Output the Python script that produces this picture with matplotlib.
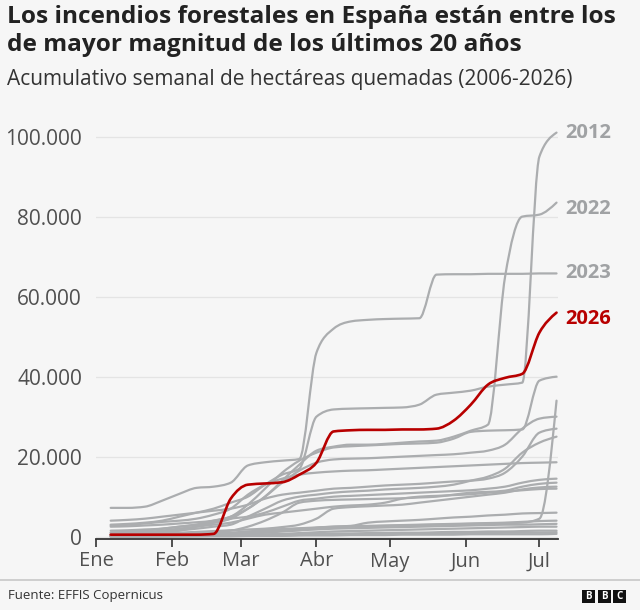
import matplotlib
matplotlib.use("Agg")
import matplotlib.pyplot as plt
from matplotlib.patches import Rectangle, PathPatch
from matplotlib.lines import Line2D
from matplotlib.path import Path

plt.rcParams['font.family'] = ['Open Sans', 'DejaVu Sans']

# Weekly sample days (day of year, 0 = 1 Jan)
week_days = [6 + 7 * i for i in range(27)]

month_days = [0, 31, 59, 90, 120, 151, 181]
month_labels = ["Ene", "Feb", "Mar", "Abr", "May", "Jun", "Jul"]

y_ticks = [0, 20000, 40000, 60000, 80000, 100000]
y_tick_labels = ["0", "20.000", "40.000", "60.000", "80.000", "100.000"]

# Cumulative burned hectares (thousands of ha), weekly
y2026 = [0.5, 0.5, 0.5, 0.5, 0.5, 0.5, 0.7, 9.5, 13.0, 13.3, 13.6, 15.5, 18.5, 26.3, 26.6,
         26.7, 26.7, 26.8, 26.8, 27.0, 29.0, 33.0, 38.0, 39.7, 40.7, 51.0, 56.0]
y2012 = [3, 3.2, 3.5, 4, 5, 6, 7, 8.5, 10, 13, 15.5, 17, 30, 31.8, 32, 32.1, 32.2, 32.3, 33,
         35.5, 36, 36.5, 37.5, 38, 38.5, 95, 101]
y2022 = [1, 1.2, 1.5, 2, 2.5, 3, 4, 5, 7, 10, 14, 18, 21.5, 22.5, 23, 23, 23.2, 23.5, 23.8,
         24, 25, 26.5, 28, 65, 80, 80.5, 83.5]
y2023 = [7.2, 7.2, 7.5, 9, 10.7, 12.2, 12.5, 13.5, 17.8, 18.6, 19, 19.4, 46, 52, 53.8, 54.2,
         54.4, 54.5, 54.6, 65.5, 65.6, 65.6, 65.7, 65.7, 65.7, 65.8, 65.8]
other_years = [
    [2.5, 2.6, 2.8, 3, 3.3, 3.6, 4, 5, 8, 12, 16, 19, 21, 22.3, 22.6, 22.8, 23, 23.2, 23.3,
     23.5, 24.5, 26.2, 26.5, 26.6, 26.8, 39, 40],
    [1.5, 1.6, 1.8, 2, 2.5, 3, 3.5, 4.5, 7, 10, 13.5, 16.5, 18.5, 19.3, 19.5, 19.6, 19.8, 20,
     20.2, 20.4, 20.6, 21, 21.5, 23, 27, 29.5, 30],
    [0.3, 0.3, 0.4, 0.5, 0.6, 0.7, 0.8, 1, 1.3, 1.6, 1.8, 2, 2.2, 2.4, 2.5, 2.6, 2.7, 2.8, 2.9,
     3, 3.1, 3.2, 3.3, 3.4, 3.5, 4.5, 34],
    [4, 4.2, 4.5, 5, 5.5, 6, 6.5, 7, 8, 9.5, 10.5, 11, 11.5, 12, 12.2, 12.5, 12.8, 13, 13.2,
     13.5, 13.8, 14, 14.5, 16, 20, 26, 27],
    [1, 1.1, 1.2, 1.4, 1.6, 2, 2.5, 3, 5, 7, 9, 10, 10.5, 11, 11.3, 11.5, 11.8, 12, 12.2, 12.5,
     13, 14, 15, 17, 21, 23.5, 25],
    [2.8, 3, 3.3, 3.7, 4, 4.5, 5.5, 7, 10.5, 13, 14.5, 15.5, 16, 16.3, 16.5, 16.6, 16.8, 17,
     17.2, 17.4, 17.6, 17.8, 18, 18.2, 18.4, 18.5, 18.6],
    [0.5, 0.6, 0.8, 1, 1.5, 2.5, 3.5, 4.5, 5, 6, 7.5, 9, 9.5, 10, 10.2, 10.4, 10.6, 10.8, 11,
     11.2, 11.4, 11.6, 12, 12.5, 13.5, 14.2, 14.5],
    [0.2, 0.2, 0.3, 0.5, 0.8, 1, 1.2, 1.5, 2.5, 4, 6, 8.5, 9, 9.2, 9.3, 9.4, 9.5, 9.6, 9.8, 10,
     10.5, 11, 11.2, 11.5, 12.5, 13.2, 13.5],
    [0.4, 0.5, 0.6, 0.8, 1, 1.2, 1.4, 1.6, 1.8, 2, 2.4, 3, 4.5, 7, 7.4, 7.6, 7.8, 8, 8.5, 9,
     9.5, 10, 10.5, 11, 11.8, 12.3, 12.5],
    [0.6, 0.7, 1, 1.5, 2, 2.5, 3, 3.5, 4.5, 5.5, 6, 6.5, 7, 7.5, 7.8, 8, 8.5, 9.5, 10, 10.2,
     10.4, 10.6, 11, 11.3, 11.6, 11.9, 12],
    [0.1, 0.1, 0.2, 0.2, 0.3, 0.4, 0.5, 0.6, 0.8, 1, 1.3, 1.6, 2.2, 2.5, 2.7, 3.5, 3.8, 4, 4.2,
     4.5, 4.8, 5, 5.3, 5.5, 5.8, 5.9, 6],
    [0.2, 0.2, 0.3, 0.3, 0.4, 0.5, 0.6, 0.8, 1.2, 1.6, 1.9, 2.1, 2.3, 2.5, 2.6, 2.7, 2.8, 2.9,
     3, 3.1, 3.2, 3.3, 3.4, 3.5, 3.7, 3.9, 4],
    [0.3, 0.3, 0.4, 0.5, 0.6, 0.7, 0.8, 0.9, 1.0, 1.2, 1.4, 1.6, 1.8, 2.0, 2.1, 2.2, 2.3, 2.4,
     2.5, 2.6, 2.7, 2.8, 2.9, 3.0, 3.0, 3.1, 3.2],
    [0.1, 0.1, 0.1, 0.2, 0.2, 0.3, 0.3, 0.4, 0.5, 0.6, 0.7, 0.9, 1.1, 1.3, 1.4, 1.5, 1.6, 1.7,
     1.8, 1.9, 2, 2.1, 2.2, 2.3, 2.4, 2.5, 2.5],
    [0, 0, 0.1, 0.1, 0.1, 0.2, 0.2, 0.3, 0.3, 0.4, 0.5, 0.6, 0.7, 0.8, 0.8, 0.9, 0.9, 1, 1,
     1.1, 1.2, 1.2, 1.3, 1.3, 1.4, 1.5, 1.5],
    [0, 0, 0, 0.1, 0.1, 0.1, 0.2, 0.2, 0.2, 0.3, 0.3, 0.4, 0.5, 0.5, 0.6, 0.6, 0.7, 0.7, 0.8,
     0.8, 0.8, 0.9, 0.9, 1.0, 1.0, 1.0, 1.1],
    [0, 0, 0, 0, 0.1, 0.1, 0.1, 0.1, 0.2, 0.2, 0.2, 0.3, 0.3, 0.3, 0.4, 0.4, 0.4, 0.5, 0.5,
     0.5, 0.5, 0.6, 0.6, 0.6, 0.6, 0.6, 0.7],
]

labelled = [("2012", y2012), ("2022", y2022), ("2023", y2023)]

GRAY = "#abadaf"
RED = "#b80000"
BG = "#f6f6f6"
TXT = "#505050"


def _sign(v):
    return (v > 0) - (v < 0)


def monotone_path(xs, ys):
    """Build a monotone-X cubic Bezier path through the data points (rendering only)."""
    n = len(xs)
    h = [xs[i + 1] - xs[i] for i in range(n - 1)]
    s = [(ys[i + 1] - ys[i]) / h[i] for i in range(n - 1)]
    t = [0.0] * n
    for i in range(1, n - 1):
        h0, h1, s0, s1 = h[i - 1], h[i], s[i - 1], s[i]
        p = (s0 * h1 + s1 * h0) / (h0 + h1)
        t[i] = (_sign(s0) + _sign(s1)) * min(abs(s0), abs(s1), 0.5 * abs(p))
    t[0] = (3 * s[0] - t[1]) / 2 if n > 2 else s[0]
    t[-1] = (3 * s[-1] - t[-2]) / 2 if n > 2 else s[-1]
    verts = [(xs[0], ys[0])]
    codes = [Path.MOVETO]
    for i in range(n - 1):
        dx = h[i] / 3
        verts += [(xs[i] + dx, ys[i] + dx * t[i]),
                  (xs[i + 1] - dx, ys[i + 1] - dx * t[i + 1]),
                  (xs[i + 1], ys[i + 1])]
        codes += [Path.CURVE4] * 3
    return Path(verts, codes)


def draw_line(ax, ys, color, lw, z):
    vals = [v * 1000 for v in ys]
    ax.add_patch(PathPatch(monotone_path(week_days, vals), facecolor='none',
                           edgecolor=color, lw=lw, capstyle='round', joinstyle='round',
                           zorder=z))


fig = plt.figure(figsize=(6.4, 6.1), dpi=100, facecolor=BG)
ax = fig.add_axes([96 / 640, 1 - 539 / 610, (558 - 96) / 640, (539 - 125) / 610])
ax.set_facecolor(BG)

for ys in other_years:
    draw_line(ax, ys, GRAY, 1.6, 2)
for name, ys in labelled:
    draw_line(ax, ys, GRAY, 1.6, 2)
draw_line(ax, y2026, RED, 1.9, 4)

ax.set_xlim(0, 188.6)
ax.set_ylim(-580, 102900)

ax.set_yticks(y_ticks)
ax.set_yticklabels(y_tick_labels)
ax.set_xticks(month_days)
ax.set_xticklabels(month_labels)
ax.tick_params(axis='y', length=0, pad=10, labelsize=15, labelcolor=TXT)
ax.tick_params(axis='x', length=6, width=1.2, color="#333333", pad=3, labelsize=14.5,
               labelcolor=TXT)
ax.grid(axis='y', color="#e4e4e4", lw=0.9, zorder=0)
for s in ["top", "right", "left"]:
    ax.spines[s].set_visible(False)
ax.spines["bottom"].set_color("#333333")
ax.spines["bottom"].set_linewidth(1.3)

# End labels
label_offsets = {"2012": 0, "2022": -1.5, "2023": 0, "2026": -1.5}
for name, ys in labelled:
    ax.annotate(name, xy=(week_days[-1], (ys[-1] + label_offsets[name]) * 1000),
                xytext=(6.5, 0), textcoords='offset points', va='center', ha='left',
                fontsize=14.5, fontweight='bold', color="#a0a2a4", annotation_clip=False)
ax.annotate("2026", xy=(week_days[-1], (y2026[-1] + label_offsets["2026"]) * 1000),
            xytext=(6.5, 0), textcoords='offset points', va='center', ha='left',
            fontsize=14.5, fontweight='bold', color=RED, annotation_clip=False)

# Titles
fig.text(7 / 640, 1 - 5 / 610,
         "Los incendios forestales en España están entre los\nde mayor magnitud de los últimos 20 años",
         ha='left', va='top', fontsize=17.6, fontweight='bold', color="#222222",
         linespacing=1.2)
fig.text(7 / 640, 1 - 79 / 610, "Acumulativo semanal de hectáreas quemadas (2006-2026)",
         ha='left', va='center', fontsize=15, color="#333333")

# Footer
fig.add_artist(Line2D([0, 1], [1 - 580 / 610] * 2, color="#c8c8c8", lw=1.2,
                      transform=fig.transFigure))
fig.text(8 / 640, 1 - 595 / 610, "Fuente: EFFIS Copernicus", ha='left', va='center',
         fontsize=9.5, color="#333333")
for i, letter in enumerate("BBC"):
    x0 = 582 + i * 15.5
    fig.add_artist(Rectangle((x0 / 640, 1 - 603 / 610), 13 / 640, 13 / 610,
                             transform=fig.transFigure, facecolor="#111111",
                             edgecolor='none'))
    fig.text((x0 + 6.5) / 640, 1 - 596.5 / 610, letter, ha='center', va='center',
             fontsize=7, fontweight='bold', color='white')

fig.savefig("out.png", dpi=100, facecolor=BG)
